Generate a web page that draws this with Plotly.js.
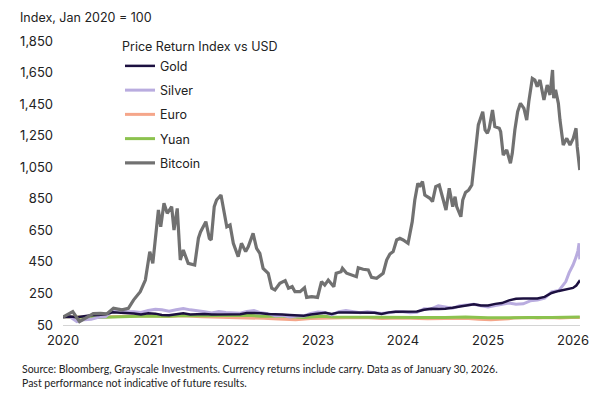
<!DOCTYPE html>
<html>
<head>
<meta charset="utf-8">
<script src="https://cdn.plot.ly/plotly-3.0.1.min.js"></script>
<style>html,body{margin:0;padding:0;background:#fff;}#chart{width:600px;height:396px;}</style>
</head>
<body>
<div id="chart"></div>
<script>
// ---- Data (Index, Jan 2020 = 100) ----
var seriesNames = ["Gold", "Silver", "Euro", "Yuan", "Bitcoin"];
var yearTicks = ["2020", "2021", "2022", "2023", "2024", "2025", "2026"];

// Gold: monthly values Jan 2020 .. Jan 2026, then late-Jan 2026 points
var goldMonthly = [
  100,104,99,105,112,113,118,131,129,124,123,117,
  124,122,114,112,117,125,117,119,120,116,117,116,
  119,118,126,127,125,120,120,116,113,110,108,116,
  120,127,120,130,130,129,126,129,127,120,130,134,
  136,134,136,147,153,152,153,159,166,174,181,173,
  173,184,189,206,216,218,219,218,228,253,266,276,
  285
];
var goldExtraDates = ["2026-01-15", "2026-01-27", "2026-01-30"];
var goldExtra = [300, 325, 318];

// Silver: monthly values Jan 2020 .. Dec 2025, then Dec 2025 / Jan 2026 points
var silverMonthly = [
  100,100,72,84,86,99,102,140,150,134,134,130,
  142,150,146,138,146,155,146,142,134,126,136,130,
  128,125,136,141,127,122,108,111,101,107,107,123,
  133,130,114,134,142,133,128,134,129,123,128,134,
  134,127,130,153,152,171,164,157,172,176,182,172,
  164,174,180,189,182,184,203,208,220,260,268,325
];
var silverExtraDates = ["2025-12-15", "2026-01-01", "2026-01-14", "2026-01-22", "2026-01-27", "2026-01-30"];
var silverExtra = [380, 430, 480, 520, 568, 466];

var euroDates = ["2020-01-01","2020-03-15","2020-05-01","2020-07-15","2020-09-01","2020-12-31","2021-03-31","2021-05-25","2021-08-20","2021-11-25","2022-02-10","2022-03-07","2022-05-12","2022-07-14","2022-09-27","2022-11-30","2023-01-31","2023-03-01","2023-04-28","2023-07-17","2023-10-03","2023-12-28","2024-02-14","2024-04-16","2024-06-30","2024-09-25","2024-11-22","2025-01-13","2025-03-31","2025-04-21","2025-07-01","2025-08-01","2025-09-17","2025-11-05","2025-12-24","2026-01-27","2026-01-30"];
var euroValues = [100,97,99,103,106,109,104,108,103,99,100,96,92,88,84,91,95,93,96,98,91,95,91,90,91,93,87,83,90,95,98,95,98,95,98,100,98];

var yuanDates = ["2020-01-01","2020-02-01","2020-05-27","2020-08-01","2020-10-01","2020-12-31","2021-03-31","2021-05-31","2021-09-01","2021-12-31","2022-02-28","2022-04-29","2022-08-01","2022-10-31","2022-12-31","2023-01-20","2023-03-07","2023-06-30","2023-09-08","2023-12-29","2024-04-01","2024-07-01","2024-09-26","2024-12-31","2025-04-08","2025-07-01","2025-10-01","2026-01-30"];
var yuanValues = [100,99,97,100,103,107,106,110,109,111,112,106,106,97,103,105,101,99,97,99,98,97,100,96,95,97,98,100];

var btcDates = ["2020-01-01","2020-02-12","2020-03-12","2020-04-12","2020-05-10","2020-06-10","2020-07-07","2020-08-05","2020-09-10","2020-10-08","2020-10-30","2020-11-28","2020-12-20",
  "2021-01-08","2021-01-21","2021-02-14","2021-02-24","2021-03-10","2021-03-24","2021-04-12","2021-04-22","2021-05-06","2021-05-19","2021-06-01","2021-06-22","2021-07-20","2021-08-05","2021-08-14","2021-09-06","2021-09-21","2021-09-29","2021-10-12","2021-10-22","2021-11-10","2021-11-28","2021-12-05","2021-12-19",
  "2022-01-02","2022-01-23","2022-02-06","2022-02-24","2022-03-07","2022-03-28","2022-04-12","2022-04-26","2022-05-10","2022-06-01","2022-06-16","2022-06-30","2022-07-21","2022-08-13","2022-08-27","2022-09-12","2022-09-24","2022-10-16","2022-11-04","2022-11-13","2022-12-05","2022-12-30",
  "2023-01-16","2023-01-30","2023-02-14","2023-03-10","2023-03-20","2023-04-10","2023-04-16","2023-05-04","2023-05-25","2023-06-15","2023-06-23","2023-07-14","2023-08-05","2023-08-19","2023-09-10","2023-10-08","2023-10-23","2023-11-06","2023-11-20","2023-12-05","2023-12-19",
  "2024-01-02","2024-01-23","2024-02-10","2024-02-21","2024-03-05","2024-03-13","2024-03-25","2024-04-04","2024-04-26","2024-05-07","2024-05-21","2024-06-05","2024-06-19","2024-07-04","2024-07-18","2024-08-02","2024-08-12","2024-08-19","2024-09-06","2024-09-14","2024-09-26","2024-10-10","2024-10-23","2024-11-08","2024-11-20","2024-12-09","2024-12-19","2024-12-29",
  "2025-01-06","2025-01-20","2025-01-30","2025-02-18","2025-02-24","2025-03-07","2025-03-22","2025-04-07","2025-04-15","2025-04-26","2025-05-08","2025-05-20","2025-06-04","2025-06-16","2025-06-25","2025-07-10","2025-07-21","2025-07-31","2025-08-12","2025-08-29","2025-09-12","2025-09-24","2025-10-05","2025-10-10","2025-10-18","2025-10-30","2025-11-06","2025-11-20","2025-12-05","2025-12-19",
  "2026-01-02","2026-01-14","2026-01-19","2026-01-30"];
var btcValues = [100,135,71,100,122,124,120,156,146,156,208,261,335,
  515,441,779,673,822,758,800,652,789,462,525,441,430,600,640,705,599,589,800,842,874,736,673,684,
  568,483,568,515,546,631,536,504,409,378,283,272,314,331,283,293,261,261,286,225,230,225,
  325,303,335,293,378,388,409,378,367,356,413,403,399,352,346,378,462,500,515,589,599,
  589,568,705,842,948,927,959,874,853,832,927,937,863,779,916,800,863,800,736,842,890,906,937,1159,1318,1402,1286,1265,
  1297,1413,1307,1297,1276,1127,1159,1075,1138,1286,1402,1455,1423,1349,1466,1613,1603,1561,1603,1476,1571,1508,1666,1487,1540,1455,1349,1191,1233,1191,
  1233,1297,1180,1032];

// ---- Build month dates for monthly series ----
function monthDates(n) {
  var out = [];
  for (var i = 0; i < n; i++) {
    var y = 2020 + Math.floor(i / 12), m = (i % 12) + 1;
    out.push(y + "-" + (m < 10 ? "0" + m : m) + "-01");
  }
  return out;
}
var goldDates = monthDates(goldMonthly.length).concat(goldExtraDates);
var goldValues = goldMonthly.concat(goldExtra);
var silverDates = monthDates(silverMonthly.length).concat(silverExtraDates);
var silverValues = silverMonthly.concat(silverExtra);

var colors = {Gold: "#1c1040", Silver: "#b9acdf", Euro: "#f5a68a", Yuan: "#8cc24e", Bitcoin: "#717171"};
var FONT = "Inter, 'Noto Sans', sans-serif";
var FOOT = "Lato, 'Noto Sans', sans-serif";

function tr(name, x, y, width, rank) {
  return {type: "scatter", mode: "lines", name: name, x: x, y: y,
    line: {color: colors[name], width: width}, legendrank: rank, legendgroup: name,
    hoverinfo: "skip"};
}
var traces = [
  tr("Euro", euroDates, euroValues, 3, 3),
  tr("Yuan", yuanDates, yuanValues, 3, 4),
  tr("Silver", silverDates, silverValues, 3, 2),
  tr("Gold", goldDates, goldValues, 2.5, 1),
  tr("Bitcoin", btcDates, btcValues, 3.2, 5)
];

var layout = {
  width: 600, height: 396,
  margin: {l: 63, r: 20, t: 41, b: 71},
  paper_bgcolor: "#ffffff", plot_bgcolor: "#ffffff",
  font: {family: FONT, size: 13, color: "#222222"},
  title: {text: "Index, Jan 2020 = 100", x: 20/600, xanchor: "left", xref: "container",
          y: 1 - 18/396, yanchor: "middle", yref: "container",
          font: {family: FONT, size: 12.5, color: "#222222"}},
  xaxis: {type: "date", range: ["2020-01-01", "2026-01-31"],
          tickvals: yearTicks.map(function (y) { return y + "-01-01"; }),
          ticktext: yearTicks, showgrid: false, zeroline: false,
          showline: true, linecolor: "#d4d4d4", linewidth: 1, ticks: "",
          ticklabelstandoff: 3,
          tickfont: {family: FONT, size: 13, color: "#222222"}},
  yaxis: {range: [50, 1850], tick0: 50, dtick: 200, tickformat: ",",
          showgrid: false, zeroline: false, showline: false, ticks: "",
          ticklabelstandoff: 9,
          tickfont: {family: FONT, size: 13, color: "#222222"}},
  showlegend: true,
  legend: {x: (120-63)/517, xanchor: "left", y: (325-35)/284, yanchor: "top",
           bgcolor: "rgba(0,0,0,0)", borderwidth: 0, itemwidth: 30,
           traceorder: "grouped", tracegroupgap: 5,
           title: {text: "Price Return Index vs USD", font: {family: FONT, size: 12.5, color: "#222222"}},
           font: {family: FONT, size: 12.5, color: "#222222"}},
  annotations: [{
    xref: "paper", yref: "paper", x: -43/517, y: (325-361)/284, xanchor: "left", yanchor: "top",
    align: "left", showarrow: false,
    text: "Source: Bloomberg, Grayscale Investments. Currency returns include carry. Data as of January 30, 2026.<br>Past performance not indicative of future results.",
    font: {family: FOOT, size: 10.5, color: "#222222"}
  }]
};

Plotly.newPlot("chart", traces, layout, {staticPlot: true, displayModeBar: false});
</script>
</body>
</html>
